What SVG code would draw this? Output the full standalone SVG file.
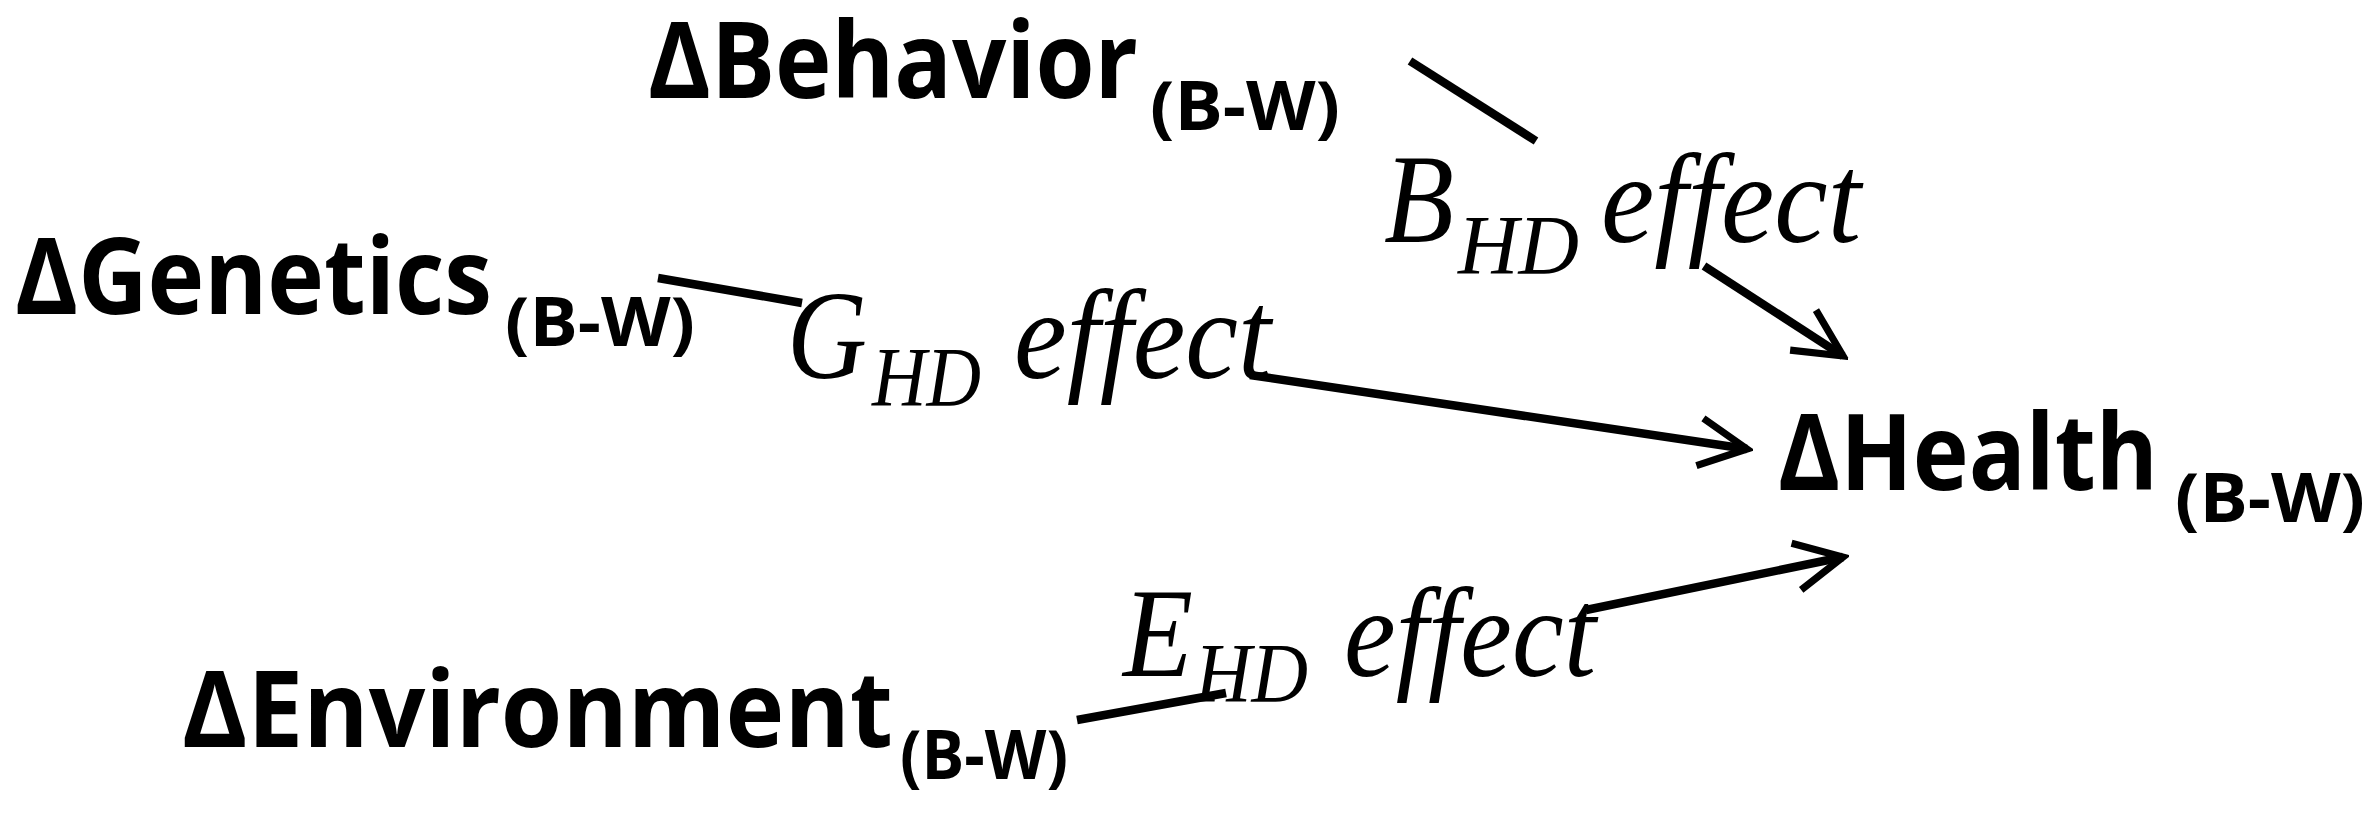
<svg xmlns="http://www.w3.org/2000/svg" width="2372" height="819" viewBox="0 0 2372 819">
<style>
.n{font-family:"Open Sans","Liberation Sans",sans-serif;font-weight:bold;fill:#000}
.big{font-size:106px}.sub{font-size:68px}
.l{font-family:"Liberation Serif",serif;font-style:italic;fill:#000}
.lb{font-size:126px}.ls{font-size:84px}
.c{stroke:#000;stroke-width:8.5;fill:none}
</style>
<defs>
<marker id="a" viewBox="0 0 10 10" refX="9" refY="5" markerWidth="7" markerHeight="7" orient="auto" markerUnits="strokeWidth">
<path d="M1,1 L9,5 L1,9" fill="none" stroke="#000" stroke-width="1.2"/>
</marker>
</defs>
<rect width="2372" height="819" fill="#fff"/>
<g id="connectors">
<line class="c" x1="1410" y1="61" x2="1536" y2="141"/>
<line class="c" x1="1704" y1="266" x2="1843" y2="356" marker-end="url(#a)"/>
<line class="c" x1="658" y1="278" x2="802" y2="303"/>
<line class="c" x1="1250" y1="375" x2="1747" y2="449" marker-end="url(#a)"/>
<line class="c" x1="1077" y1="720" x2="1226" y2="693"/>
<line class="c" x1="1586" y1="610" x2="1843" y2="557" marker-end="url(#a)"/>
</g>
<g id="behavior"><text class="n big" x="648" y="98" textLength="490" lengthAdjust="spacingAndGlyphs">ΔBehavior</text><text class="n sub" x="1150" y="130" textLength="190" lengthAdjust="spacingAndGlyphs">(B-W)</text></g>
<g id="genetics"><text class="n big" x="15" y="314" textLength="477" lengthAdjust="spacingAndGlyphs">ΔGenetics</text><text class="n sub" x="505" y="346" textLength="190" lengthAdjust="spacingAndGlyphs">(B-W)</text></g>
<g id="health"><text class="n big" x="1778" y="490" textLength="380" lengthAdjust="spacingAndGlyphs">ΔHealth</text><text class="n sub" x="2175" y="522" textLength="190" lengthAdjust="spacingAndGlyphs">(B-W)</text></g>
<g id="environment"><text class="n big" x="182" y="747" textLength="711" lengthAdjust="spacingAndGlyphs">ΔEnvironment</text><text class="n sub" x="900" y="779" textLength="168" lengthAdjust="spacingAndGlyphs">(B-W)</text></g>
<g id="labels">
<text class="l lb" x="1384" y="242" textLength="70" lengthAdjust="spacingAndGlyphs">B</text><text class="l ls" x="1458" y="274" textLength="121" lengthAdjust="spacingAndGlyphs">HD</text><text class="l lb" x="1601" y="242" textLength="260" lengthAdjust="spacingAndGlyphs">effect</text>
<text class="l lb" x="787" y="378" textLength="80" lengthAdjust="spacingAndGlyphs">G</text><text class="l ls" x="872" y="406" textLength="109" lengthAdjust="spacingAndGlyphs">HD</text><text class="l lb" x="1014" y="378" textLength="257" lengthAdjust="spacingAndGlyphs">effect</text>
<text class="l lb" x="1123" y="676" textLength="70" lengthAdjust="spacingAndGlyphs">E</text><text class="l ls" x="1195" y="702" textLength="113" lengthAdjust="spacingAndGlyphs">HD</text><text class="l lb" x="1344" y="676" textLength="252" lengthAdjust="spacingAndGlyphs">effect</text>
</g>
</svg>
